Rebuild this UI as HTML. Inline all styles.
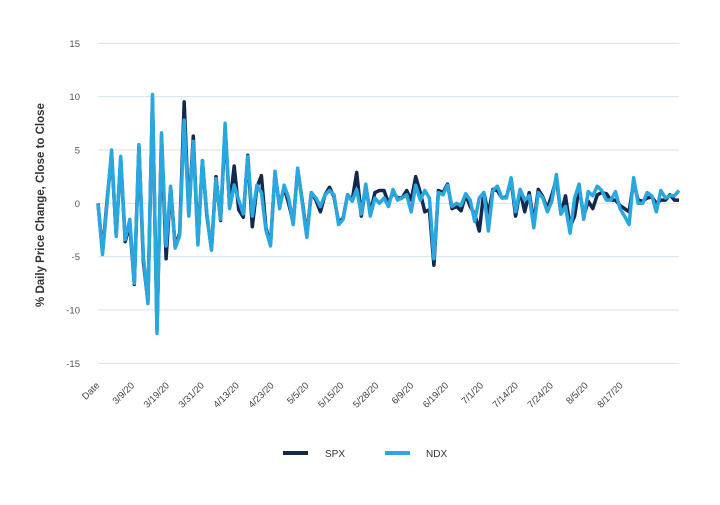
<!DOCTYPE html>
<html><head><meta charset="utf-8"><style>
body{margin:0;background:#fff;font-family:"Liberation Sans",sans-serif;}
svg text{font-family:"Liberation Sans",sans-serif;}
</style></head><body>
<svg id="chart" width="720" height="500" viewBox="0 0 720 500">
<g id="grid"></g>
<g id="yticks"></g>
<g id="xticks"></g>
<g id="series"></g>
<text transform="translate(44,205) rotate(-90)" text-anchor="middle" font-size="11.5" font-weight="bold" fill="#333">% Daily Price Change, Close to Close</text>
<g>
<g><line x1="283" y1="453" x2="308" y2="453" stroke="#14284b" stroke-width="4"/><text x="325" y="457" font-size="10" fill="#333">SPX</text></g>
<g><line x1="385" y1="453" x2="410" y2="453" stroke="#29a8e0" stroke-width="4"/><text x="426" y="457" font-size="10" fill="#333">NDX</text></g>
</g>
</svg>
<script>
const ndx=[0,-4.8,0,5,-3.1,4.4,-3.4,-1.5,-7.5,5.5,-5,-9.4,10.2,-12.2,6.6,-4,1.6,-4.2,-3,7.8,-1.2,5.8,-3.9,4,-1,-4.4,2.3,-1.5,7.5,-0.5,1.7,0.3,-1,4.4,-1.2,
1.7,1.0,-2.5,-4,3,-0.5,1.7,0.5,-2,3.3,0,-3.2,1,0.5,-0.3,0.8,1.2,0.8,-2,-1.5,0.8,0.2,1.3,-1,1.8,-1.2,0.5,0,0.5,-0.3,1.3,0.3,0.5,0.8,-0.8,1.7,0.3,1.2,0.5,-5.2,1.0,0.8,1.7,-0.3,0,
-0.2,0.9,0.3,-1.7,0.5,1,-2.6,1.2,1.6,0.5,0.5,2.4,-0.8,1.3,0.3,0.7,-2.3,1,0.5,-0.8,0.2,2.7,-1,-0.3,-2.8,0.5,1.8,-1.5,1.1,0.7,1.6,1.2,0.3,0.3,1.1,-0.5,-1.2,-2,2.4,0,0,1,0.7,-0.8,1.2,0.5,0.7,0.7,1.2];
const spx=[0,-4.6,0.3,4.6,-3,4.2,-3.6,-2,-7.6,5.3,-5.5,-9.2,9.8,-11.8,6.3,-5.2,1.5,-4.1,-2.8,9.5,-1,6.3,-3.7,4,-1.2,-4.3,2.5,-1.6,7,-0.3,3.5,-0.6,-1.3,4.5,-2.2,
1.5,2.6,-2.3,-3.8,2.8,-0.3,1.5,0,-1.8,3.2,0.2,-3,1,0.3,-0.8,0.8,1.5,0.6,-1.8,-1.4,0.8,0.3,2.9,-1.2,1.6,-0.9,1.0,1.2,1.2,0,1.0,0.5,0.5,1.2,0.3,2.5,1,-0.8,-0.6,-5.8,1.2,1,1.8,-0.5,-0.3,
-0.7,0.8,-0.3,-1,-2.6,1,-1,1.3,1.2,0.5,0.6,2.2,-1.2,1.2,-0.8,1,-1.8,1.3,0.6,-0.5,0.8,2.3,-1,0.7,-2.2,-1.2,1.5,-1.2,0.2,-0.5,0.8,1,0.9,0.3,0.3,-0.2,-0.5,-0.8,2,0.3,0.2,0.5,0.6,0,0.3,0.3,0.8,0.3,0.3];
const yTicks=[15,10,5,0,-5,-10,-15];
const xLabels=["Date","3/9/20","3/19/20","3/31/20","4/13/20","4/23/20","5/5/20","5/15/20","5/28/20","6/9/20","6/19/20","7/1/20","7/14/20","7/24/20","8/5/20","8/17/20"];
const NS="http://www.w3.org/2000/svg";
const n=ndx.length;
const x0=98,x1=679;
function xs(i){return x0+(x1-x0)*i/(n-1);}
function ys(v){return 203.3-v*10.67;}
const grid=document.getElementById('grid'),yt=document.getElementById('yticks'),xt=document.getElementById('xticks'),ser=document.getElementById('series');
yTicks.forEach(v=>{
const l=document.createElementNS(NS,'line');


l.setAttribute('x1',x0);l.setAttribute('x2',x1);l.setAttribute('y1',ys(v));l.setAttribute('y2',ys(v));
l.setAttribute('stroke','#d6e2ec');l.setAttribute('stroke-width','1');grid.appendChild(l);
const t=document.createElementNS(NS,'text');


t.setAttribute('x',80);t.setAttribute('y',ys(v)+3.5);t.setAttribute('text-anchor','end');t.setAttribute('font-size','9.5');t.setAttribute('fill','#555');
t.textContent=v;yt.appendChild(t);
});
const step=(n-1)/((x1-x0)/34.9);
xLabels.forEach((s,k)=>{
const x=x0+k*34.9;
const t=document.createElementNS(NS,'text');


t.setAttribute('transform','translate('+(x+2)+',386) rotate(-45)');
t.setAttribute('text-anchor','end');t.setAttribute('font-size','9.5');t.setAttribute('fill','#444');
t.textContent=s;xt.appendChild(t);
});
function line(data,color,name){
const p=document.createElementNS(NS,'polyline');


p.setAttribute('points',data.map((v,i)=>xs(i).toFixed(1)+','+ys(v).toFixed(1)).join(' '));
p.setAttribute('fill','none');p.setAttribute('stroke',color);p.setAttribute('stroke-width','3.5');p.setAttribute('stroke-linejoin','round');
ser.appendChild(p);
}
line(spx,'#14284b','spx-line');
line(ndx,'#29a8e0','ndx-line');
</script>
</body></html>
